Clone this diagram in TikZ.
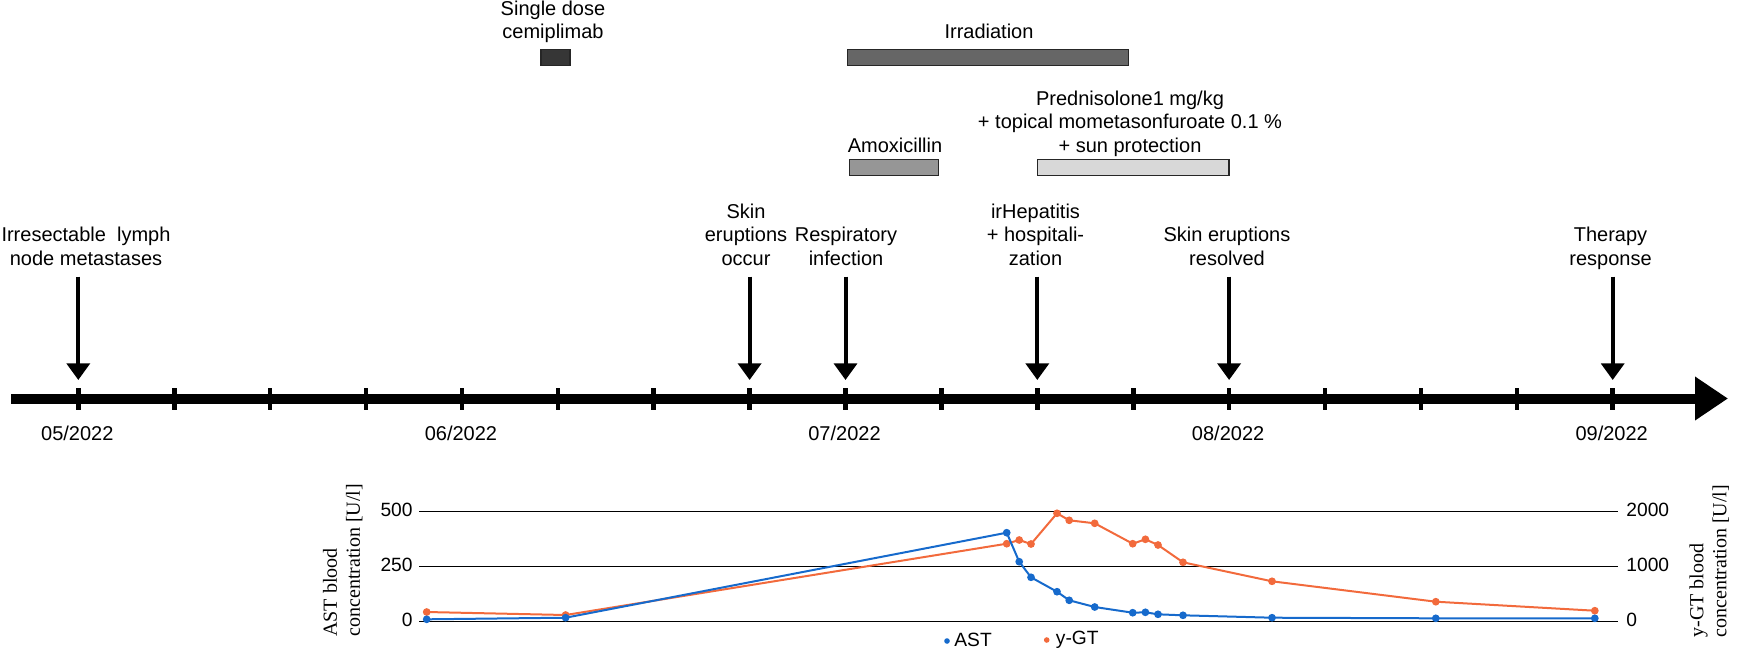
\documentclass[tikz,border=0pt]{standalone}
\usepackage{fontspec}
\setmainfont{Liberation Sans}
\newfontfamily\axisfont{Liberation Serif}
\usetikzlibrary{arrows.meta,calc}
\definecolor{astblue}{RGB}{22,106,204}
\definecolor{ggtorange}{RGB}{242,106,60}
\definecolor{dosefill}{RGB}{54,54,54}
\definecolor{irrfill}{RGB}{102,102,102}
\definecolor{amoxfill}{RGB}{150,150,150}
\definecolor{prednfill}{RGB}{216,216,216}
\tikzset{
  evtext/.style={align=center, anchor=base, inner sep=0pt,
    font=\fontsize{10pt}{11.65pt}\selectfont},
  monthtext/.style={anchor=base, inner sep=0pt, font=\fontsize{10pt}{12pt}\selectfont},
  numtext/.style={inner sep=0pt, font=\fontsize{9.6pt}{11pt}\selectfont},
  axtitle/.style={align=left, inner sep=0pt, rotate=90, anchor=north west,
    font=\axisfont\fontsize{10pt}{11.5pt}\selectfont},
  axisline/.style={line width=5pt, -{Triangle[width=20.8pt,length=16.5pt]}},
  tickmark/.style={line width=2.3pt},
  evarrow/.style={line width=2pt, -{Triangle[width=11.4pt,length=8.3pt]}},
  barbox/.style={draw=black!85, line width=0.6pt},
  gridline/.style={line width=0.65pt},
  astline/.style={astblue, line width=1pt, mark=*, mark size=1.4pt,
    mark options={fill=astblue, draw=astblue}},
  ggtline/.style={ggtorange, line width=1pt, mark=*, mark size=1.4pt,
    mark options={fill=ggtorange, draw=ggtorange}}
}
\begin{document}
\begin{tikzpicture}[x=0.5pt,y=-0.5pt]
  \useasboundingbox (0,0) rectangle (1738,659);

  \coordinate (start) at (11,398.5);
  \coordinate (end) at (1728,398.5);
  \draw[axisline] (start) -- (end);
  \foreach \i in {0,...,16} {
    \coordinate (t\i) at (78.3+95.9*\i,398.5);
    \draw[tickmark] ($(t\i)+(0,-10.5)$) -- ($(t\i)+(0,11.5)$);
  }
  \foreach \i/\m in {0/05,4/06,8/07,12/08,16/09}
    \node[monthtext] (m\m) at ($(t\i)+(-1,41.5)$) {\m/2022};

  \node[evtext] (irr) at (86,265) {Irresectable\ \ lymph\\node metastases};
  \node[evtext] (skinon) at (746,265) {Skin\\eruptions\\occur};
  \node[evtext] (resp) at (846,265) {Respiratory\\infection};
  \node[evtext] (hep) at (1035.5,265) {irHepatitis\\+ hospitali-\\zation};
  \node[evtext] (skinoff) at (1227,265) {Skin eruptions\\resolved};
  \node[evtext] (therapy) at (1610.5,265) {Therapy\\response};
  \foreach \i in {0,7,8,10,12,16}
    \draw[evarrow] ($(t\i)+(0,-121.8)$) -- ($(t\i)+(0,-18.5)$);

  \draw[barbox, fill=dosefill] (541,49.3) rectangle (570,65.7);
  \node[evtext] (dose) at (553,38.5) {Single dose\\cemiplimab};
  \draw[barbox, fill=irrfill] (847.5,49.3) rectangle (1128.6,65.7);
  \node[evtext] (irrad) at (989,38.5) {Irradiation};
  \draw[barbox, fill=amoxfill] (849.6,159.7) rectangle (938.7,175.7);
  \node[evtext] (amox) at (895,152) {Amoxicillin};
  \draw[barbox, fill=prednfill] (1037.4,159.7) rectangle (1229,175.7);
  \node[evtext] (predn) at (1130,152)
    {Prednisolone1 mg/kg\\+ topical mometasonfuroate 0.1 \%\\+ sun protection};

  \foreach \y/\l/\r in {511.7/500/2000,566.3/250/1000,621.3/0/0} {
    \draw[gridline] (419,\y) -- (1618,\y);
    \node[numtext, anchor=east] at (413,\y-1.5) {\l};
    \node[numtext, anchor=west] at (1626,\y-1.5) {\r};
  }
  \draw[ggtline] plot coordinates {(426.7,612) (565.6,615) (1006.7,543.7)
    (1019.2,540) (1031,544) (1057,513.3) (1069.2,520.3) (1094.7,523.3)
    (1132.7,543.7) (1145.4,539.3) (1158,545) (1183,562.3) (1272,581.3)
    (1435.8,601.7) (1594.8,610.7)};
  \draw[astline] plot coordinates {(426.7,619.3) (565.6,617.7) (1006.7,532.7)
    (1019.2,561.7) (1031,577.3) (1057,591.7) (1069.2,600.3) (1094.7,607)
    (1132.7,612.7) (1145.4,612.3) (1158,614.3) (1183,615.3) (1272,617.7)
    (1435.8,618.3) (1594.8,618.3)};

  \fill[astblue] (947,641) circle (1.4pt);
  \node[numtext, anchor=west] (legast) at (954,640) {AST};
  \fill[ggtorange] (1046.7,640) circle (1.4pt);
  \node[numtext, anchor=west] (legggt) at (1055.5,640) {y-GT};

  \node[axtitle] (astlab) at (322.5,637) {AST blood\\concentration [U/l]};
  \node[axtitle] (ggtlab) at (1689,638) {y-GT blood\\concentration [U/l]};
\end{tikzpicture}
\end{document}
